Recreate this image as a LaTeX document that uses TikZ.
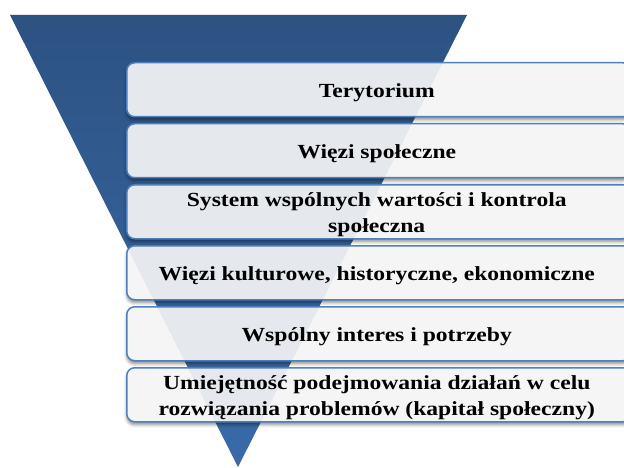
\documentclass[tikz,border=0pt]{standalone}
\usepackage{fontspec}
\setmainfont{Liberation Serif}[FakeStretch=1.18]
\usetikzlibrary{shadows.blur}
\definecolor{funneltop}{RGB}{45,83,131}
\definecolor{funnelbot}{RGB}{60,108,172}
\definecolor{levelline}{RGB}{79,129,189}
\definecolor{levelfill}{RGB}{245,245,245}
\tikzset{
  level/.style={draw=levelline, line width=1.5pt, fill=levelfill,
    rounded corners=8pt, minimum width=504pt, minimum height=54pt, anchor=north west,
    blur shadow={shadow xshift=0pt, shadow yshift=-3pt, shadow blur radius=3pt, shadow opacity=45}},
  leveltext/.style={font=\fontsize{20}{26}\selectfont\bfseries, align=center, text=black}
}
\begin{document}
\begin{tikzpicture}[x=1pt,y=-1pt]
        \def\top{62}
        \def\step{61}
        \useasboundingbox (0,0) rectangle (624,468);
        %% funnel
        \shade[top color=funneltop, bottom color=funnelbot] (10,15) -- (467,15) -- (238,467) -- cycle;
        %% levels
        \foreach \i in {1,...,6}
            \node[level] (box\i) at (126,{\top+\step*(\i-1)}) {};
        %% funnel seen through the levels
        \fill[funneltop, opacity=0.08] (10,15) -- (467,15) -- (238,467) -- cycle;
        %% texts
        \foreach \i/\txt in {1/Terytorium,
                             2/Więzi społeczne,
                             3/{System wspólnych wartości i kontrola\\społeczna},
                             4/{Więzi kulturowe, historyczne, ekonomiczne},
                             5/Wspólny interes i potrzeby,
                             6/{Umiejętność podejmowania działań w celu\\rozwiązania problemów (kapitał społeczny)}}
            \node[leveltext] (txt\i) at ([xshift=-2pt,yshift=-3pt]box\i.center) {\txt};
    \end{tikzpicture}
\end{document}
